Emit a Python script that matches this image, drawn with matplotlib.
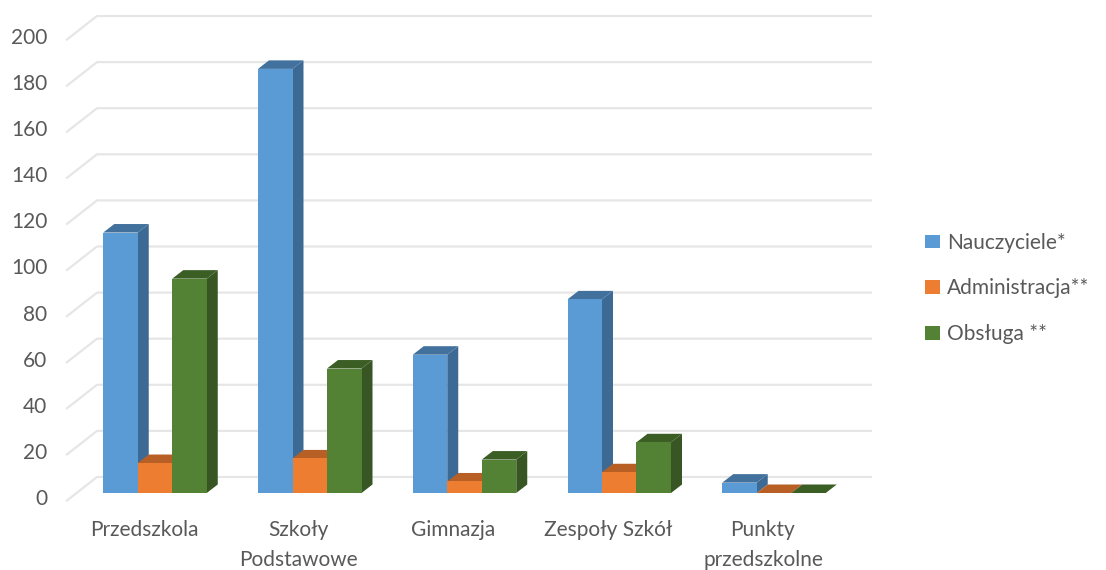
import matplotlib
matplotlib.use("Agg")
import matplotlib.pyplot as plt
from matplotlib.patches import Patch, Polygon
from matplotlib.transforms import Affine2D

plt.rcParams['font.family'] = ['Lato', 'DejaVu Sans']

categories = ["Przedszkola", "Szkoły\nPodstawowe", "Gimnazja", "Zespoły Szkół", "Punkty\nprzedszkolne"]
nauczyciele = [113, 184, 60, 84, 4.5]
administracja = [13, 15, 5, 9, 0]
obsluga = [93, 54, 14.5, 22, 0]
series_names = ["Nauczyciele*", "Administracja**", "Obsługa **"]
y_ticks = [0, 20, 40, 60, 80, 100, 120, 140, 160, 180, 200]

W, H = 1106, 570
PX_PER_UNIT = 2.305
PX_PER_CAT = 154.75
X0_PX, Y0_PX = 144, 497
L_PX, R_PX, T_PX, B_PX = 67, 871, 8, 501
TEXT = "#595959"
GRID = "#E6E6E6"
FS = 15

fig = plt.figure(figsize=(W / 100, H / 100), dpi=100, facecolor="white")
ax = fig.add_axes([L_PX / W, 1 - B_PX / H, (R_PX - L_PX) / W, (B_PX - T_PX) / H])
ax.set_xlim((L_PX - X0_PX) / PX_PER_CAT, (R_PX - X0_PX) / PX_PER_CAT)
ax.set_ylim((Y0_PX - B_PX) / PX_PER_UNIT, (Y0_PX - T_PX) / PX_PER_UNIT)
for s in ax.spines.values():
    s.set_visible(False)
ax.patch.set_visible(False)

ax.set_yticks(y_ticks)
ax.set_xticks(range(len(categories)))
ax.set_xticklabels(categories, linespacing=1.62)
ax.tick_params(axis="y", length=0, pad=14.2, labelsize=FS, labelcolor=TEXT)
ax.tick_params(axis="x", length=0, pad=13.5, labelsize=FS, labelcolor=TEXT)

# the bars stand in the middle of the floor, shifted from the label plane
front = ax.transData + Affine2D().translate(11, 4)
DX = 11 / PX_PER_CAT
DY = 8.5 / PX_PER_UNIT
BAR_W = 34.5 / PX_PER_CAT

# gridlines: back wall plus the diagonal on the left wall
wall_x = (97 - (X0_PX + 11)) / PX_PER_CAT
wall_end = (871 - (X0_PX + 11)) / PX_PER_CAT
wall_left = (67 - (X0_PX + 11)) / PX_PER_CAT
back_up = 16 / PX_PER_UNIT
front_down = -7.5 / PX_PER_UNIT
for v in y_ticks:
    ax.plot([wall_left, wall_x, wall_end],
            [v + front_down, v + back_up, v + back_up],
            color=GRID, lw=1.6, transform=front, zorder=1, clip_on=False,
            solid_joinstyle="round")

series = [
    (nauczyciele, "#5B9BD5", "#3C6A94", "#41719C"),
    (administracja, "#ED7D31", "#B0591F", "#B85F26"),
    (obsluga, "#548235", "#375623", "#3B5E25"),
]
for i, (vals, c_front, c_side, c_top) in enumerate(series):
    offset = (i - 1) * BAR_W
    for j, v in enumerate(vals):
        x0 = j + offset - BAR_W / 2
        x1 = x0 + BAR_W
        ax.add_patch(Polygon([(x1, 0), (x1 + DX, DY), (x1 + DX, v + DY), (x1, v)],
                             closed=True, fc=c_side, ec="none", transform=front, zorder=2 + i))
        ax.add_patch(Polygon([(x0, v), (x1, v), (x1 + DX, v + DY), (x0 + DX, v + DY)],
                             closed=True, fc=c_top, ec="none", transform=front, zorder=2 + i))
    ax.bar([j + offset for j in range(len(vals))], vals, width=BAR_W, color=c_front,
           transform=front, zorder=2.5 + i, linewidth=0)

handles = [Patch(facecolor=s[1], edgecolor="none") for s in series]
fig.legend(handles, series_names, loc="center left",
           bbox_to_anchor=(917 / W, 1 - 288.5 / H), frameon=False,
           fontsize=FS, labelcolor=TEXT, handlelength=0.72, handleheight=0.625,
           handletextpad=0.34, labelspacing=1.24, borderpad=0, borderaxespad=0.4)

fig.savefig("out.png", dpi=100)
